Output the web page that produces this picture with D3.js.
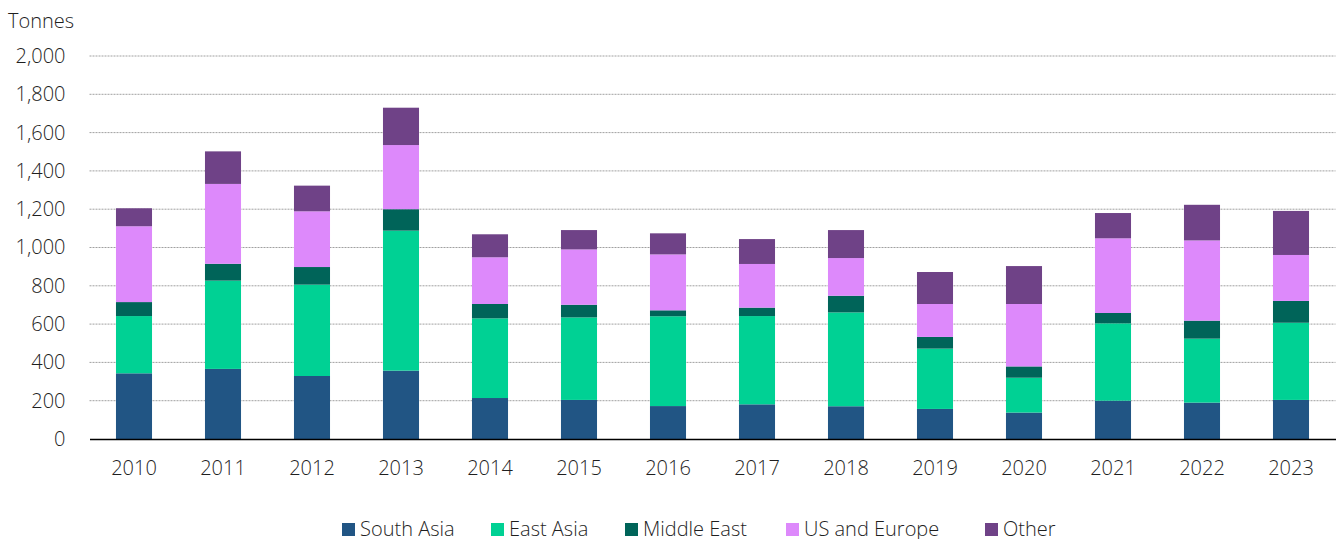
<!DOCTYPE html>
<html lang="en">
<head>
<meta charset="UTF-8">
<title>Tonnes by region</title>
<script src="https://d3js.org/d3.v7.min.js"></script>
<style>
  body { margin: 0; background: #fff; }
  text { font-family: "Open Sans", sans-serif; fill: #1f1f1f; font-weight: 300; }
</style>
</head>
<body>
<svg width="1343" height="539" id="mainsvg"></svg>
<script>
const years = ['2010','2011','2012','2013','2014','2015','2016','2017','2018','2019','2020','2021','2022','2023'];
const southAsia   = [343, 366, 329, 357, 214, 204, 172, 181, 171, 157, 138, 200, 190, 204];
const eastAsia    = [299, 461, 477, 731, 416, 431, 469, 461, 490, 315, 182, 404, 334, 403];
const middleEast  = [ 73,  88,  92, 112,  75,  66,  31,  44,  87,  61,  59,  54,  94, 114];
const usEurope    = [396, 417, 291, 335, 244, 289, 292, 228, 197, 172, 326, 390, 419, 240];
const other       = [ 94, 170, 134, 195, 120, 101, 110, 130, 146, 167, 198, 132, 186, 230];
const yTicks = [0, 200, 400, 600, 800, 1000, 1200, 1400, 1600, 1800, 2000];

const series = [
  {key: 'South Asia',   values: southAsia,  color: '#215584'},
  {key: 'East Asia',    values: eastAsia,   color: '#00d194'},
  {key: 'Middle East',  values: middleEast, color: '#006459'},
  {key: 'US and Europe',values: usEurope,   color: '#dd89fb'},
  {key: 'Other',        values: other,      color: '#6f4287'}
];

const svg = d3.select('#mainsvg');
const margin = {top: 56, left: 89.5};
const innerW = 1335.5 - margin.left;
const innerH = 439 - margin.top;

// rows for d3.stack
const rows = years.map((y, i) => {
  const r = {year: y};
  series.forEach(s => { r[s.key] = s.values[i]; });
  return r;
});
const stacked = d3.stack().keys(series.map(s => s.key))(rows);

const x = d3.scaleBand().domain(years).range([0, innerW])
  .paddingInner(0.595).paddingOuter(0.2975);
const y = d3.scaleLinear().domain([0, 2000]).range([innerH, 0]);

const g = svg.append('g').attr('transform', `translate(${margin.left},${margin.top})`);

// gridlines
g.append('g')
  .selectAll('line')
  .data(yTicks.filter(d => d > 0))
  .join('line')
  .attr('x1', 0).attr('x2', innerW)
  .attr('y1', d => y(d)).attr('y2', d => y(d))
  .attr('stroke', '#a0a0a0')
  .attr('stroke-width', 1)
  .attr('stroke-dasharray', '2,1');

// y axis labels
const yAxis = d3.axisLeft(y).tickValues(yTicks).tickSize(0).tickPadding(24)
  .tickFormat(d3.format(','));
g.append('g').call(yAxis)
  .call(a => a.select('.domain').remove())
  .attr('font-family', null).attr('font-size', null)
  .selectAll('text')
  .attr('font-size', 20);

// bars
g.append('g')
  .selectAll('g')
  .data(stacked)
  .join('g')
  .attr('fill', (d, i) => series[i].color)
  .selectAll('rect')
  .data(d => d)
  .join('rect')
  .attr('x', d => x(d.data.year))
  .attr('width', x.bandwidth())
  .attr('y', d => y(d[1]))
  .attr('height', d => y(d[0]) - y(d[1]));

// x axis
const xAxis = d3.axisBottom(x).tickSize(0).tickPadding(22);
g.append('g').attr('transform', `translate(0,${innerH})`).call(xAxis)
  .attr('font-family', null).attr('font-size', null)
  .call(a => a.select('.domain').attr('stroke', '#000').attr('stroke-width', 1.5))
  .selectAll('text')
  .attr('font-size', 20);

// axis title
svg.append('text')
  .attr('x', 8).attr('y', 28)
  .attr('font-size', 20)
  .text('Tonnes');

// legend
const legendX = [342, 491, 625, 786, 985];
const legend = svg.append('g').selectAll('g')
  .data(series)
  .join('g')
  .attr('transform', (d, i) => `translate(${legendX[i]},523)`);
legend.append('rect')
  .attr('width', 13).attr('height', 13)
  .attr('fill', d => d.color);
legend.append('text')
  .attr('x', 18).attr('y', 13)
  .attr('font-size', 20)
  .text(d => d.key);
</script>
</body>
</html>
